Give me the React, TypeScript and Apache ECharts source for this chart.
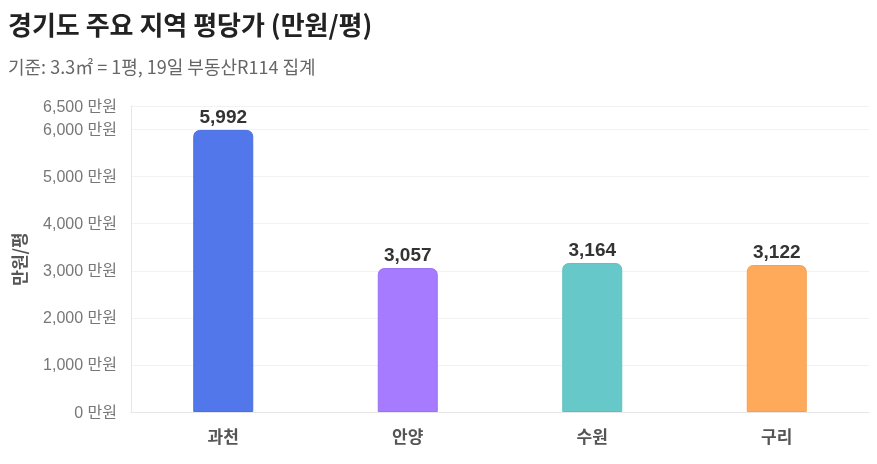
import React, { useEffect, useRef } from "react";
import * as echarts from "echarts";

const categories = ["과천", "안양", "수원", "구리"];
const prices = [5992, 3057, 3164, 3122];
const barColors = ["#5177EA", "#A67BFF", "#66C8C8", "#FFA95A"];
const borderColors = ["#4A6FE0", "#9B70F5", "#5CC0C0", "#F5A050"];
const yTicks = { min: 0, max: 6500, interval: 1000 };

const FONT = "'Noto Sans CJK KR', 'Noto Sans', sans-serif";
const NUM_FONT = "'Liberation Sans', 'Noto Sans CJK KR', sans-serif";

export default function App() {
  const ref = useRef<HTMLDivElement>(null);
  useEffect(() => {
    if (!ref.current) return;
    const chart = echarts.init(ref.current, undefined, { renderer: "svg" });
    chart.setOption({
      animation: false,
      textStyle: { fontFamily: FONT },
      title: {
        text: "경기도 주요 지역 평당가 (만원/평)",
        subtext: "기준: 3.3㎡ = 1평, 19일 부동산R114 집계",
        left: 3,
        top: 5,
        itemGap: 21,
        textStyle: { fontFamily: FONT, fontSize: 26, fontWeight: "bold", color: "#222" },
        subtextStyle: { fontFamily: FONT, fontSize: 18, color: "#666" },
      },
      grid: { left: 131, right: 8, top: 106, bottom: 52 },
      xAxis: {
        type: "category",
        data: categories,
        axisLine: { show: true, lineStyle: { color: "#e6e6e6", width: 1 } },
        axisTick: { show: false },
        axisLabel: { fontFamily: FONT, fontSize: 17, fontWeight: "bold", color: "#555", margin: 15 },
      },
      yAxis: {
        type: "value",
        min: yTicks.min,
        max: yTicks.max,
        interval: yTicks.interval,
        name: "만원/평",
        nameLocation: "middle",
        nameGap: 104,
        nameRotate: 90,
        nameTextStyle: { fontFamily: FONT, fontSize: 17, fontWeight: "bold", color: "#555" },
        axisLine: { show: true, lineStyle: { color: "#e6e6e6", width: 1 } },
        axisTick: { show: false },
        splitLine: { show: true, lineStyle: { color: "#f2f2f2", width: 1 } },
        axisLabel: {
          fontFamily: NUM_FONT,
          fontSize: 16,
          color: "#777",
          margin: 14,
          formatter: (v: number) => `${v.toLocaleString("en-US")} 만원`,
        },
      },
      series: [
        {
          type: "bar",
          barWidth: 60,
          data: prices.map((v, i) => ({
            value: v,
            itemStyle: {
              color: barColors[i],
              borderColor: borderColors[i],
              borderWidth: 1,
              borderRadius: [6, 6, 0, 0],
            },
          })),
          label: {
            show: true,
            position: "top",
            distance: 4,
            fontFamily: NUM_FONT,
            fontSize: 19,
            fontWeight: "bold",
            color: "#333",
            formatter: (p: any) => Number(p.value).toLocaleString("en-US"),
          },
        },
      ],
    });
    return () => chart.dispose();
  }, []);
  return <div ref={ref} style={{ position: "fixed", left: 0, top: 0, width: 877, height: 464 }} />;
}
